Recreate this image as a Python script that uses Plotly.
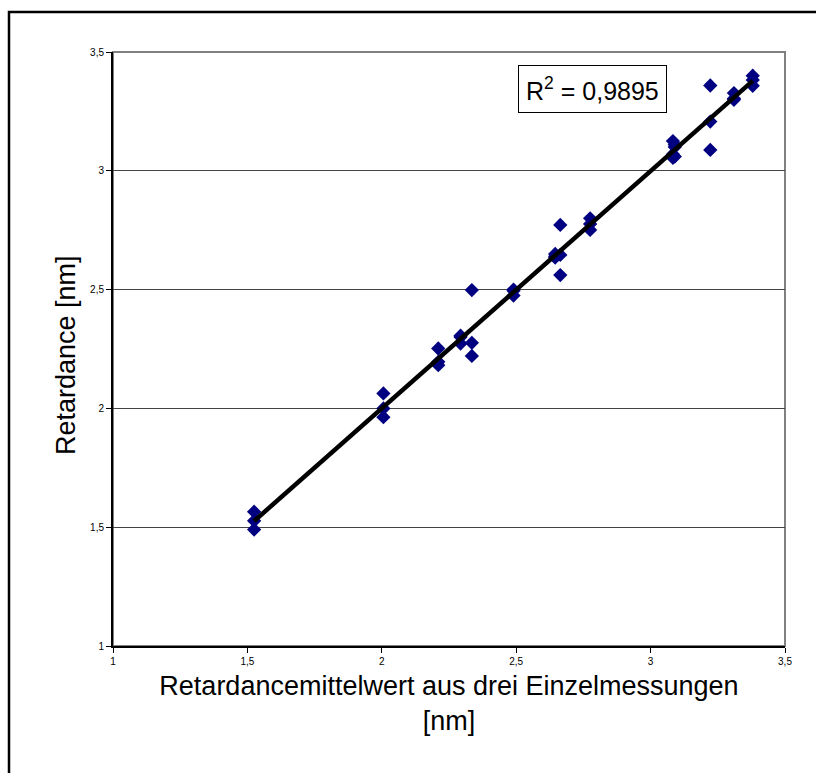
import numpy as np
import plotly.graph_objects as go

# Mean of three single measurements (x) and the single measurements (y), in nm
x_mean = [1.525, 1.525, 1.525,
          2.006, 2.006, 2.006,
          2.210, 2.210, 2.210,
          2.293, 2.293, 2.293,
          2.335, 2.335, 2.335,
          2.490, 2.490, 2.490,
          2.645, 2.645, 2.645,
          2.664, 2.664, 2.664,
          2.775, 2.775, 2.775,
          3.083, 3.083, 3.083,
          3.090, 3.090, 3.090,
          3.222, 3.222, 3.222,
          3.310, 3.310, 3.310,
          3.380, 3.380, 3.380]
y_single = [1.565, 1.527, 1.490,
            2.063, 2.000, 1.963,
            2.252, 2.196, 2.182,
            2.306, 2.300, 2.273,
            2.498, 2.276, 2.221,
            2.500, 2.495, 2.475,
            2.650, 2.640, 2.635,
            2.772, 2.646, 2.561,
            2.800, 2.776, 2.751,
            3.125, 3.070, 3.055,
            3.110, 3.100, 3.060,
            3.359, 3.207, 3.088,
            3.327, 3.304, 3.299,
            3.400, 3.382, 3.358]

r2_label = "R<sup>2</sup> = 0,9895"
tick_vals = [1, 1.5, 2, 2.5, 3, 3.5]
tick_text = ["1", "1,5", "2", "2,5", "3", "3,5"]

W, H = 816, 773
ML, MR, MT, MB = 113, 31, 52, 127
PW, PH = W - ML - MR, H - MT - MB


def px_to_paper_x(px):
    return (px - ML) / PW


def px_to_paper_y(py):
    return (H - MB - py) / PH


# Linear trendline through the measurements
slope, intercept = np.polyfit(x_mean, y_single, 1)
x_fit = np.array([min(x_mean), max(x_mean)])
y_fit = slope * x_fit + intercept

fig = go.Figure()
fig.add_trace(go.Scatter(
    x=x_mean, y=y_single, mode="markers",
    marker=dict(symbol="diamond", size=11, color="#000080",
                line=dict(width=0)),
    showlegend=False, cliponaxis=False,
))
fig.add_trace(go.Scatter(
    x=x_fit, y=y_fit, mode="lines",
    line=dict(color="black", width=4.5),
    showlegend=False,
))

FONT = "Liberation Sans, Arial, sans-serif"
axis_font = dict(family=FONT, size=10, color="black")

fig.update_xaxes(
    range=[1, 3.5], tickvals=tick_vals, ticktext=tick_text,
    showgrid=False, zeroline=False,
    showline=True, linecolor="black", linewidth=2,
    ticks="outside", ticklen=5, tickcolor="black", tickwidth=1,
    tickfont=axis_font,
    title=dict(text="Retardancemittelwert aus drei Einzelmessungen<br>[nm]",
               font=dict(family=FONT, size=27, color="black"), standoff=10),
)
fig.update_yaxes(
    range=[1, 3.5], tickvals=tick_vals, ticktext=tick_text,
    showgrid=True, gridcolor="#444444", gridwidth=1,
    zeroline=False,
    showline=True, linecolor="black", linewidth=2,
    ticks="outside", ticklen=5, tickcolor="black", tickwidth=1,
    tickfont=axis_font,
)

shapes = [
    # plot area frame (grey on top and right)
    dict(type="rect", xref="paper", yref="paper", x0=0, y0=0, x1=1, y1=1,
         line=dict(color="#808080", width=2), layer="below"),
    # outer chart frame
    dict(type="rect", xref="paper", yref="paper",
         x0=px_to_paper_x(9), x1=px_to_paper_x(840),
         y0=px_to_paper_y(800), y1=px_to_paper_y(12),
         line=dict(color="black", width=2.5), layer="below"),
]

fig.update_layout(
    width=W, height=H,
    margin=dict(l=ML, r=MR, t=MT, b=MB),
    paper_bgcolor="white", plot_bgcolor="white",
    separators=",.",
    shapes=shapes,
    annotations=[
        dict(
            x=px_to_paper_x(592), y=px_to_paper_y(89),
            xref="paper", yref="paper", xanchor="center", yanchor="middle",
            text=r2_label, showarrow=False,
            font=dict(family=FONT, size=25, color="black"),
            bordercolor="black", borderwidth=1, borderpad=7, bgcolor="white",
        ),
        # y axis title
        dict(
            x=px_to_paper_x(66), y=px_to_paper_y(355),
            xref="paper", yref="paper", xanchor="center", yanchor="middle",
            text="Retardance [nm]", textangle=-90, showarrow=False,
            font=dict(family=FONT, size=27, color="black"),
        ),
    ],
)

fig.write_html("out.html")
